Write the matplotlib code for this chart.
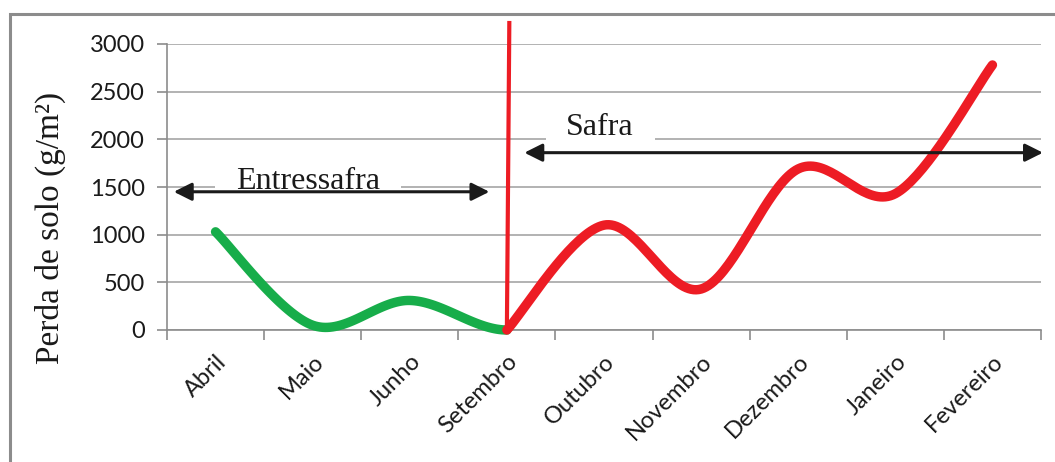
import numpy as np
import matplotlib
matplotlib.use('Agg')
import matplotlib.pyplot as plt
from matplotlib.patches import Rectangle, FancyArrowPatch

# ---------
# Data
# ---------
meses = ['Abril', 'Maio', 'Junho', 'Setembro', 'Outubro',
         'Novembro', 'Dezembro', 'Janeiro', 'Fevereiro']

# Perda de solo (g/m2) - entressafra (Abril..Setembro) e safra (Setembro..Fevereiro)
entressafra = [1030, 50, 310, 0]
safra = [0, 1100, 430, 1690, 1430, 2780]
idx_entressafra = [0, 1, 2, 3]
idx_safra = [3, 4, 5, 6, 7, 8]

# Marco do inicio da safra
marco_y = [0, 3220]

# Setas dos periodos
seta_entressafra = dict(x0=-0.43, x1=2.82, y=1450)
seta_safra = dict(x0=3.18, x1=8.52, y=1860)


def smooth(xp, yp, n=40, flat_end=False):
    """ Bezier smoothing through the points (spreadsheet-like 'smoothed line') """
    P = np.column_stack([np.asarray(xp, float), np.asarray(yp, float)])
    first = P[0]
    if flat_end:
        last = np.array([2 * P[-1, 0] - P[-2, 0], P[-2, 1]])
    else:
        last = P[-1]
    P = np.vstack([first, P, last])
    out = []
    for i in range(1, len(P) - 2):
        p0, p1, p2, p3 = P[i - 1], P[i], P[i + 1], P[i + 2]
        b1 = p1 + (p2 - p0) / 6.
        b2 = p2 - (p3 - p1) / 6.
        t = np.linspace(0, 1, n)[:, None]
        seg = (1 - t)**3 * p1 + 3 * (1 - t)**2 * t * b1 + 3 * (1 - t) * t**2 * b2 + t**3 * p2
        out.append(seg if i == 1 else seg[1:])
    out = np.vstack(out)
    return out[:, 0], out[:, 1]


# ------
# Figure
# ------
fig = plt.figure(figsize=(10.55, 4.62), dpi=100)
ax = fig.add_axes([167 / 1055, 1 - 330 / 462, (1041 - 167) / 1055, (330 - 44) / 462])

# outer frame
fig.patches.append(Rectangle((10 / 1055, -0.2), 1.2, 1.2 - 14 / 462,
                             transform=fig.transFigure, fill=False,
                             edgecolor='#8c8c8c', linewidth=2.2, zorder=0))

ax.set_xlim(-0.5, len(meses) - 0.5)
ax.set_ylim(0, 3000)

# Grid
ax.set_yticks(np.arange(0, 3001, 500))
ax.grid(axis='y', color='#a6a6a6', linewidth=1.2)
ax.set_axisbelow(True)
for s in ['top', 'right']:
    ax.spines[s].set_visible(False)
for s in ['left', 'bottom']:
    ax.spines[s].set_color('#8c8c8c')
    ax.spines[s].set_linewidth(1.2)

ax.tick_params(axis='y', length=7, color='#8c8c8c', width=1.2, pad=9,
               labelsize=17, labelcolor='#1a1a1a')
for lab in ax.get_yticklabels():
    lab.set_fontfamily('Lato')

# Category ticks at boundaries, labels at centres
ax.set_xticks(np.arange(-0.5, len(meses), 1.0))
ax.set_xticklabels([])
ax.tick_params(axis='x', which='major', length=7, color='#8c8c8c', width=1.2)
ax.set_xticks(np.arange(len(meses)), minor=True)
ax.set_xticklabels(meses, minor=True, rotation=45, ha='right', va='top',
                   rotation_mode='anchor', fontsize=17, fontfamily='Lato',
                   color='#1a1a1a')
ax.tick_params(axis='x', which='minor', length=0, pad=15)

# Curves
xs, ys = smooth(idx_entressafra, entressafra, flat_end=True)
ax.plot(xs, ys, color='#17ad4a', lw=6.8, solid_capstyle='round', clip_on=False, zorder=3)
xs, ys = smooth(idx_safra, safra)
ax.plot(xs, ys, color='#ed1c24', lw=6.8, solid_capstyle='round', clip_on=False, zorder=3)

# Marker line at start of safra
ax.plot([idx_safra[0], idx_safra[0] + 0.025], marco_y, color='#ed1c24', lw=3,
        clip_on=False, zorder=4)

# Period arrows
for seta in [seta_entressafra, seta_safra]:
    arr = FancyArrowPatch((seta['x0'], seta['y']), (seta['x1'], seta['y']),
                          arrowstyle='<|-|>,head_length=0.9,head_width=0.45',
                          mutation_scale=12, color='#1a1a1a', lw=2.2,
                          shrinkA=0, shrinkB=0, zorder=6, clip_on=False)
    ax.add_patch(arr)

box = dict(facecolor='white', edgecolor='none', boxstyle='square,pad=0.65')
ax.text(0.95, 1560, 'Entressafra', ha='center', va='center', fontsize=23,
        fontfamily='Liberation Serif', color='#1a1a1a', bbox=box, zorder=5)
ax.text(3.96, 2120, 'Safra', ha='center', va='center', fontsize=23,
        fontfamily='Liberation Serif', color='#1a1a1a', bbox=box, zorder=5)

fig.text(50 / 1055, 1 - 228 / 462, 'Perda de solo (g/m²)', rotation=90,
         ha='center', va='center', fontsize=24, fontfamily='Liberation Serif',
         color='#1a1a1a')

fig.savefig('out.png', dpi=100)
